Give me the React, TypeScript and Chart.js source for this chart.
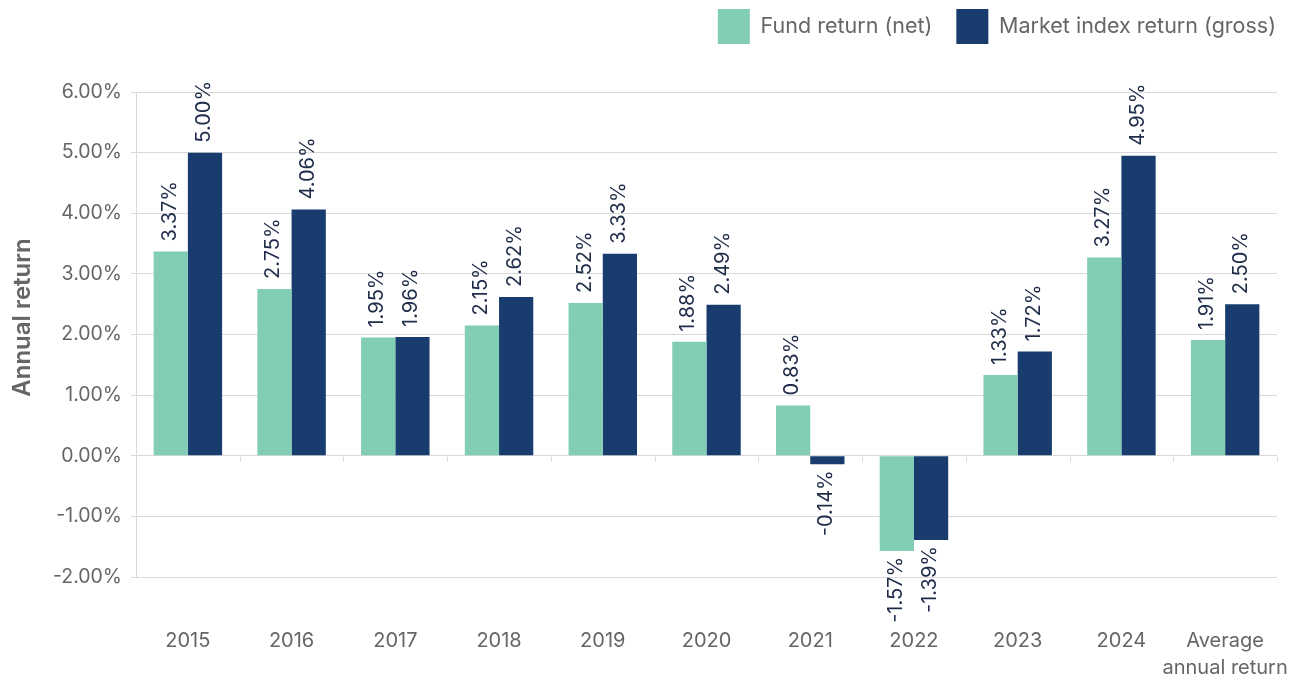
import React, { useEffect, useRef } from "react";
import { Chart, registerables } from "chart.js";

Chart.register(...registerables);

const categories: (string | string[])[] = [
  "2015", "2016", "2017", "2018", "2019", "2020", "2021", "2022", "2023", "2024",
  ["Average", "annual return"],
];
const fundReturns = [3.37, 2.75, 1.95, 2.15, 2.52, 1.88, 0.83, -1.57, 1.33, 3.27, 1.91];
const marketReturns = [5.0, 4.06, 1.96, 2.62, 3.33, 2.49, -0.14, -1.39, 1.72, 4.95, 2.5];
const seriesNames = ["Fund return (net)", "Market index return (gross)"];
const yTickMin = -2;
const yTickMax = 6;

const FONT = "Inter, 'Noto Sans', sans-serif";
const FUND_COLOR = "#82CDB5";
const MARKET_COLOR = "#173C6D";
const LABEL_COLOR = "#1F2D4A";
const TEXT_GRAY = "#666666";
const GRID = "#D9D9D9";

const valueLabels = {
  id: "valueLabels",
  afterDatasetsDraw(chart: any) {
    const ctx = chart.ctx;
    ctx.save();
    ctx.font = `20px ${FONT}`;
    ctx.fillStyle = LABEL_COLOR;
    ctx.textBaseline = "middle";
    chart.data.datasets.forEach((ds: any, di: number) => {
      const meta = chart.getDatasetMeta(di);
      meta.data.forEach((el: any, i: number) => {
        const v = ds.data[i] as number;
        const txt = v.toFixed(2) + "%";
        ctx.save();
        ctx.translate(el.x - 1, el.y);
        ctx.rotate(-Math.PI / 2);
        if (v >= 0) {
          ctx.textAlign = "left";
          ctx.fillText(txt, 10, 0);
        } else {
          ctx.textAlign = "right";
          ctx.fillText(txt, -6, 0);
        }
        ctx.restore();
      });
    });
    ctx.restore();
  },
};

const zeroTicks = {
  id: "zeroTicks",
  beforeDatasetsDraw(chart: any) {
    const x = chart.scales.x;
    const y = chart.scales.y;
    const y0 = Math.round(y.getPixelForValue(0)) + 0.5;
    const ctx = chart.ctx;
    ctx.save();
    ctx.strokeStyle = GRID;
    ctx.lineWidth = 1;
    ctx.beginPath();
    const n = categories.length;
    for (let i = 1; i <= n; i++) {
      const px = Math.round((x.getPixelForValue(i - 1) + (i < n ? x.getPixelForValue(i) : x.getPixelForValue(i - 1) * 2 - x.getPixelForValue(i - 2))) / 2) + 0.5;
      ctx.moveTo(px, y0);
      ctx.lineTo(px, y0 + 5);
    }
    ctx.stroke();
    ctx.restore();
  },
};

const legendSpacing = {
  id: "legendSpacing",
  beforeInit(chart: any) {
    const legend = chart.legend;
    if (!legend) return;
    const origFit = legend.fit;
    legend.fit = function () {
      origFit.call(this);
      this.height = 107;
    };
  },
  afterLayout(chart: any) {
    const legend = chart.legend;
    if (!legend) return;
    legend.left += 23;
    legend.right += 23;
  },
  beforeDraw(chart: any) {
    const s = chart.scales.y;
    if (s && !s._titleShifted) {
      const orig = s.drawTitle;
      s.drawTitle = function (...args: any[]) {
        const ctx = this.ctx;
        ctx.save();
        ctx.translate(0, -17);
        orig.apply(this, args);
        ctx.restore();
      };
      s._titleShifted = true;
    }
  },
};

export default function App() {
  const ref = useRef<HTMLCanvasElement>(null);
  useEffect(() => {
    if (!ref.current) return;
    const chart = new Chart(ref.current, {
      type: "bar",
      data: {
        labels: categories,
        datasets: [
          { label: seriesNames[0], data: fundReturns, backgroundColor: FUND_COLOR },
          { label: seriesNames[1], data: marketReturns, backgroundColor: MARKET_COLOR },
        ],
      },
      options: {
        responsive: true,
        maintainAspectRatio: false,
        animation: false,
        layout: { padding: { left: 0, right: 19, top: -15, bottom: 0 } },
        datasets: { bar: { categoryPercentage: 0.66, barPercentage: 1.0 } },
        plugins: {
          tooltip: { enabled: false },
          legend: {
            position: "top",
            align: "end",
            labels: {
              boxWidth: 32,
              boxHeight: 35,
              padding: 24,
              color: TEXT_GRAY,
              font: { family: FONT, size: 21.5 },
            },
          },
        },
        scales: {
          x: {
            grid: { display: false, drawTicks: false },
            border: { display: false },
            ticks: {
              color: TEXT_GRAY,
              font: { family: FONT, size: 20, lineHeight: 1.35 },
              padding: 50,
              maxRotation: 0,
              autoSkip: false,
            },
            afterFit(scale: any) {
              scale.height = 98;
              scale.paddingLeft = 0;
              scale.paddingRight = 0;
            },
          },
          y: {
            min: yTickMin,
            max: yTickMax,
            grid: { color: GRID, lineWidth: 1, tickLength: 5 },
            border: { display: true, color: GRID },
            ticks: {
              stepSize: 1,
              color: TEXT_GRAY,
              font: { family: FONT, size: 19.5 },
              padding: 9,
              callback: (v: any) => Number(v).toFixed(2) + "%",
            },
            title: {
              display: true,
              text: "Annual return",
              color: TEXT_GRAY,
              font: { family: FONT, size: 24, weight: "600" },
              padding: { top: 8, bottom: 0 },
            },
            afterFit(scale: any) {
              scale.width = 136;
            },
          },
        },
      },
      plugins: [valueLabels, zeroTicks, legendSpacing],
    });
    return () => chart.destroy();
  }, []);
  return (
    <div style={{ position: "fixed", left: 0, top: 0, width: 1296, height: 675, background: "#fff" }}>
      <canvas ref={ref} />
    </div>
  );
}
